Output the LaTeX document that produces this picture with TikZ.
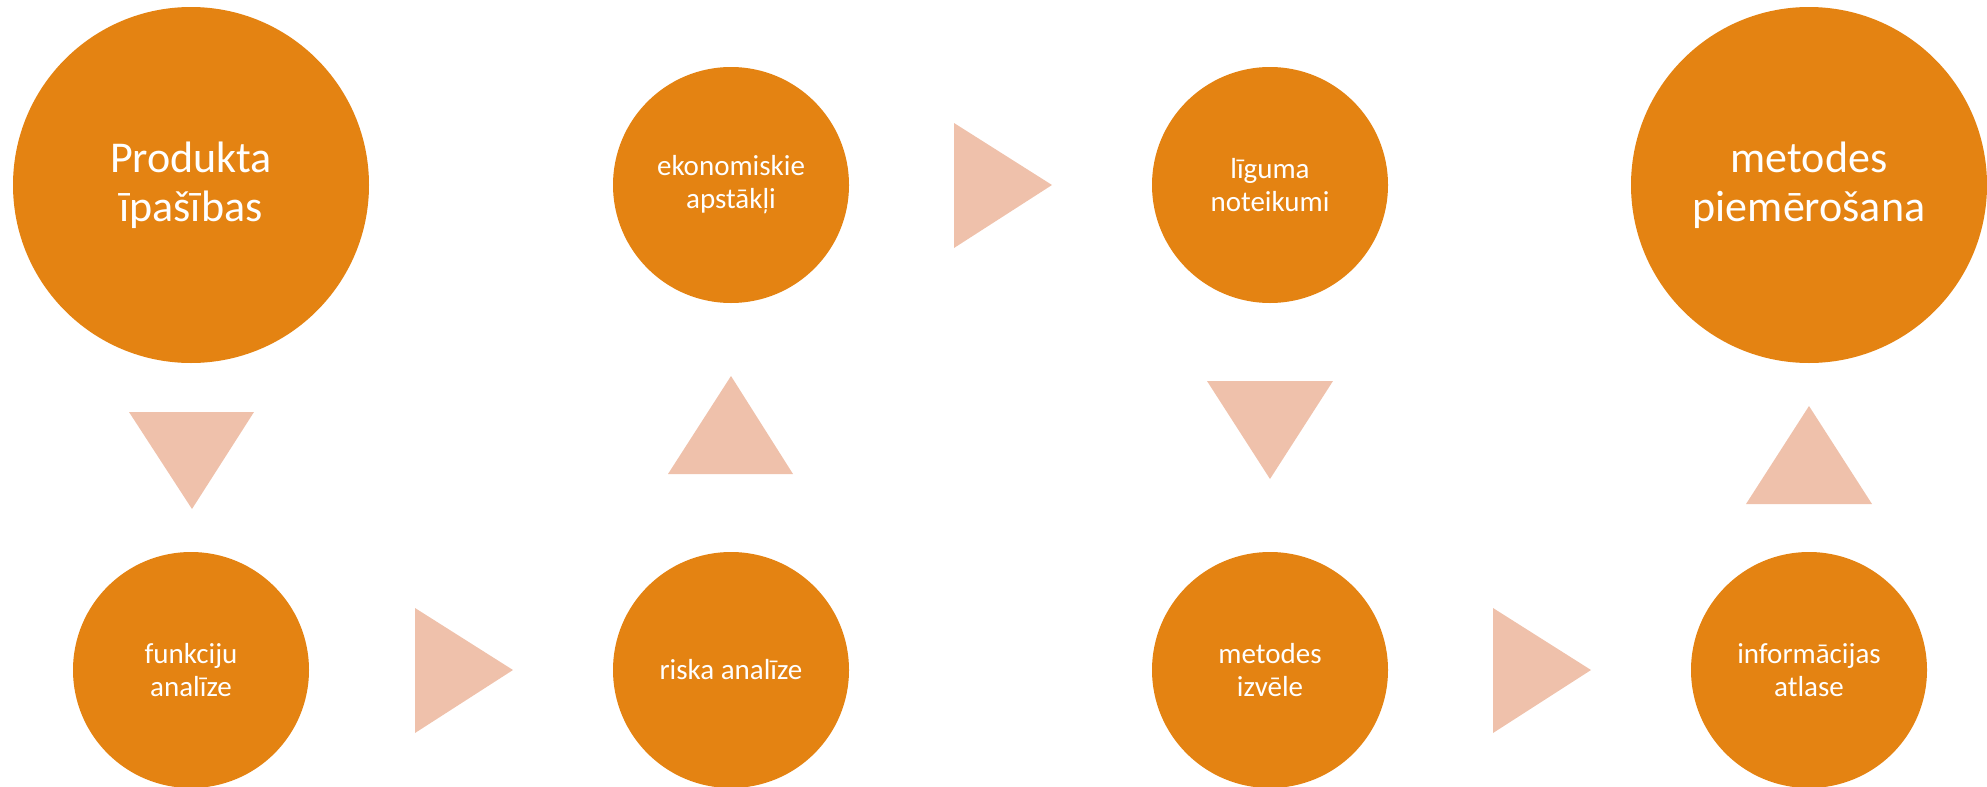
\documentclass[tikz,border=0pt]{standalone}
\usepackage{fontspec}
\setmainfont{Carlito}
\definecolor{circ}{HTML}{E48312}
\definecolor{tri}{HTML}{EFC1AB}
\tikzset{
  bigc/.style={circle, fill=circ, draw=none, minimum size=356pt, inner sep=0pt, text=white, align=center, font=\fontsize{44}{49}\selectfont},
  smallc/.style={circle, fill=circ, draw=none, minimum size=236pt, inner sep=0pt, text=white, align=center, font=\fontsize{29}{33}\selectfont},
  arr/.style={fill=tri, draw=none}
}
\begin{document}
\begin{tikzpicture}[x=1pt,y=-1pt]
\useasboundingbox (0,0) rectangle (1987,787);
\node[bigc]   (big1) at (191,185) {Produkta\\īpašības};
\node[smallc] (eko)  at (731,185) {ekonomiskie\\apstākļi};
\node[smallc] (lig)  at (1270,185) {līguma\\noteikumi};
\node[bigc]   (big2) at (1809,185) {metodes\\piemērošana};
\node[smallc] (funk) at (191,670) {funkciju\\analīze};
\node[smallc] (risk) at (731,670) {riska analīze};
\node[smallc] (izv)  at (1270,670) {metodes\\izvēle};
\node[smallc] (info) at (1809,670) {informācijas\\atlase};
% triangles (arrows)
\fill[arr] (129,412) -- (254,412) -- (192,509) -- cycle;
\fill[arr] (415,608) -- (415,733) -- (513,670) -- cycle;
\fill[arr] (668,474) -- (793,474) -- (731,376) -- cycle;
\fill[arr] (954,123) -- (954,248) -- (1052,185) -- cycle;
\fill[arr] (1207,381) -- (1333,381) -- (1270,479) -- cycle;
\fill[arr] (1493,608) -- (1493,733) -- (1591,670) -- cycle;
\fill[arr] (1746,504) -- (1872,504) -- (1809,406) -- cycle;
\end{tikzpicture}
\end{document}
